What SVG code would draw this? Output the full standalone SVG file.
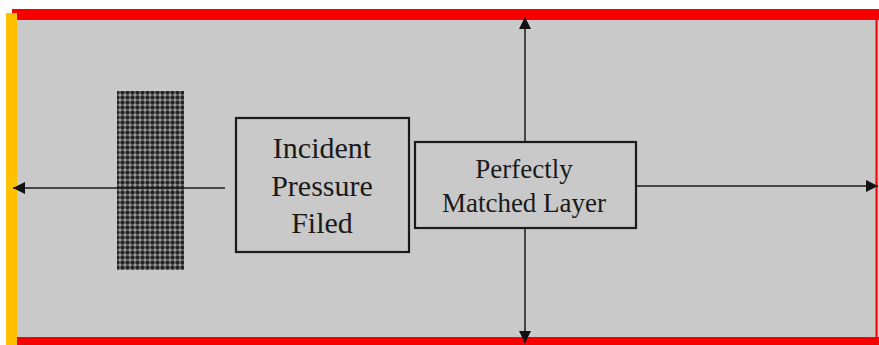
<svg xmlns="http://www.w3.org/2000/svg" width="879" height="345" viewBox="0 0 879 345">
  <style>
    .box { fill: #c9c9c9; stroke: #1a1a1a; stroke-width: 2.2; }
    .lbl { fill: #1a1a1a; text-anchor: middle; font-family: 'Liberation Serif', 'DejaVu Serif', serif; }
    .conn { stroke: #1a1a1a; stroke-width: 1.5; fill: none; marker-end: url(#head); }
  </style>
  <defs>
    <marker id="head" markerUnits="userSpaceOnUse" markerWidth="13" markerHeight="13" refX="12" refY="6.5" orient="auto">
      <path d="M0,0.5 L12,6.5 L0,12.5 Z" fill="#111"/>
    </marker>
    <pattern id="dots" width="5" height="5" patternUnits="userSpaceOnUse">
      <rect width="5" height="5" fill="#a0a0a0"/>
      <circle cx="2.5" cy="2.5" r="2.2" fill="#262626"/>
    </pattern>
  </defs>

  <!-- domain -->
  <rect x="0" y="0" width="879" height="345" fill="#ffffff"/>
  <rect x="12" y="15" width="867" height="330" fill="#c9c9c9"/>
  <!-- boundaries -->
  <rect x="12" y="9" width="867" height="11" fill="#f60000"/>
  <rect x="12" y="337" width="867" height="8" fill="#f60000"/>
  <rect x="875.5" y="15" width="2" height="325" fill="#f60000"/>
  <rect x="6" y="13" width="11" height="332" fill="#ffc000"/>

  <!-- scatterer -->
  <g id="scatterer">
    <rect x="117" y="91" width="67" height="179" fill="url(#dots)"/>
  </g>

  <g id="connectors">
    <line class="conn" x1="225" y1="188" x2="13" y2="188"/>
    <line class="conn" x1="636" y1="186" x2="878" y2="186"/>
    <line class="conn" x1="525" y1="142" x2="525" y2="17"/>
    <line class="conn" x1="525" y1="228" x2="525" y2="343"/>
  </g>

  <g id="incident">
    <rect class="box" x="236" y="118" width="173" height="134"/>
    <text class="lbl" font-size="30"><tspan x="322" y="158">Incident</tspan><tspan x="322" y="196">Pressure</tspan><tspan x="322" y="233">Filed</tspan></text>
  </g>

  <g id="pml">
    <rect class="box" x="415" y="142" width="221" height="86"/>
    <text class="lbl" font-size="27"><tspan x="524" y="178">Perfectly</tspan><tspan x="524" y="212">Matched Layer</tspan></text>
  </g>
</svg>
